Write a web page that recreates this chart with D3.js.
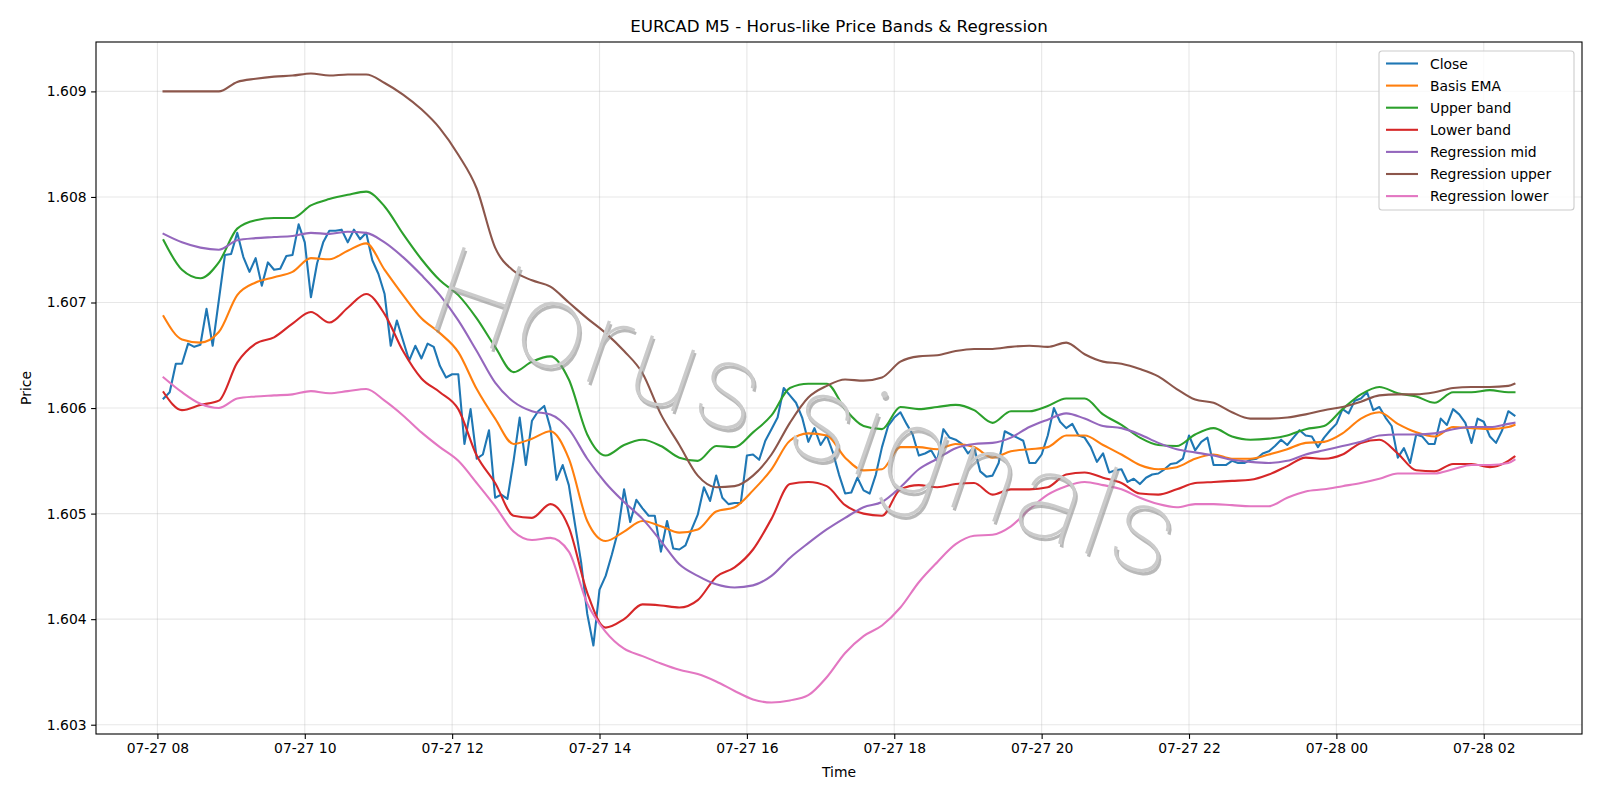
<!DOCTYPE html>
<html>
<head>
<meta charset="utf-8">
<script src="https://d3js.org/d3.v7.min.js"></script>
<style>
  body { margin: 0; background: #fff; }
  svg text { font-family: "DejaVu Sans", sans-serif; }
</style>
</head>
<body>
<svg width="1600" height="800"></svg>
<script>
// ---- data (5 minute bars, first bar 07-27 08:05) ----
var firstBar = new Date(2025, 6, 27, 8, 5);
var barMinutes = 5;

var closeVals = [
  1.60609, 1.60615, 1.60642, 1.60642, 1.60661, 1.60658, 1.60660, 1.60694, 1.60659, 1.60702,
  1.60745, 1.60746, 1.60766, 1.60743, 1.60729, 1.60742, 1.60716, 1.60738, 1.60731, 1.60732,
  1.60744, 1.60745, 1.60774, 1.60757, 1.60705, 1.60737, 1.60757, 1.60768, 1.60768, 1.60769,
  1.60757, 1.60769, 1.60760, 1.60766, 1.60740, 1.60727, 1.60708, 1.60659, 1.60683, 1.60664,
  1.60645, 1.60659, 1.60647, 1.60661, 1.60658, 1.60640, 1.60629, 1.60632, 1.60632, 1.60566,
  1.60599, 1.60552, 1.60556, 1.60579, 1.60515, 1.60518, 1.60514, 1.60550, 1.60591, 1.60546,
  1.60588, 1.60597, 1.60602, 1.60581, 1.60532, 1.60546, 1.60527, 1.60490, 1.60454, 1.60405,
  1.60375, 1.60428, 1.60441, 1.60461, 1.60483, 1.60523, 1.60492, 1.60513, 1.60505, 1.60498,
  1.60498, 1.60464, 1.60493, 1.60467, 1.60466, 1.60470, 1.60485, 1.60499, 1.60525, 1.60512,
  1.60536, 1.60515, 1.60509, 1.60510, 1.60510, 1.60555, 1.60556, 1.60551, 1.60569, 1.60580,
  1.60591, 1.60619, 1.60612, 1.60605, 1.60591, 1.60568, 1.60581, 1.60565, 1.60574, 1.60558,
  1.60537, 1.60519, 1.60520, 1.60534, 1.60522, 1.60519, 1.60537, 1.60563, 1.60583, 1.60591,
  1.60596, 1.60585, 1.60575, 1.60555, 1.60557, 1.60560, 1.60550, 1.60580, 1.60572, 1.60570,
  1.60566, 1.60557, 1.60563, 1.60540, 1.60535, 1.60536, 1.60548, 1.60578, 1.60575, 1.60572,
  1.60569, 1.60548, 1.60548, 1.60556, 1.60574, 1.60600, 1.60587, 1.60581, 1.60585, 1.60574,
  1.60572, 1.60563, 1.60549, 1.60557, 1.60539, 1.60541, 1.60542, 1.60530, 1.60533, 1.60528,
  1.60534, 1.60537, 1.60538, 1.60542, 1.60547, 1.60548, 1.60552, 1.60574, 1.60560, 1.60568,
  1.60572, 1.60546, 1.60546, 1.60546, 1.60550, 1.60548, 1.60548, 1.60551, 1.60552, 1.60557,
  1.60559, 1.60564, 1.60570, 1.60565, 1.60572, 1.60579, 1.60574, 1.60573, 1.60563, 1.60572,
  1.60579, 1.60585, 1.60599, 1.60595, 1.60607, 1.60609, 1.60615, 1.60598, 1.60601, 1.60591,
  1.60583, 1.60553, 1.60562, 1.60548, 1.60575, 1.60573, 1.60566, 1.60566, 1.60590, 1.60584,
  1.60599, 1.60594, 1.60586, 1.60567, 1.60590, 1.60587, 1.60573, 1.60567, 1.60579, 1.60597,
  1.60593
];

// bar numbers at which the smooth lines were read
var smoothBars = [
  0, 3, 6, 9, 12, 15, 18, 21, 24, 27, 30, 33, 36, 39, 42, 45, 48, 51, 54, 57,
  60, 63, 66, 69, 72, 75, 78, 81, 84, 87, 90, 93, 96, 99, 102, 105, 108, 111, 114, 117,
  120, 123, 126, 129, 132, 135, 138, 141, 144, 147, 150, 153, 156, 159, 162, 165, 168, 171, 174, 177,
  180, 183, 186, 189, 192, 195, 198, 201, 204, 207, 210, 213, 216, 219, 220
];

var emaVals = [
  1.60687, 1.60665, 1.60662, 1.60672, 1.60707, 1.60719, 1.60724, 1.60729, 1.60742, 1.60741,
  1.60749, 1.60756, 1.60731, 1.60707, 1.60685, 1.60671, 1.60653, 1.60618, 1.60590, 1.60566,
  1.60571, 1.60578, 1.60552, 1.60493, 1.60474, 1.60483, 1.60493, 1.60488, 1.60482, 1.60485,
  1.60502, 1.60506, 1.60522, 1.60542, 1.60569, 1.60576, 1.60574, 1.60553, 1.60541, 1.60542,
  1.60563, 1.60563, 1.60561, 1.60566, 1.60563, 1.60553, 1.60559, 1.60561, 1.60563, 1.60574,
  1.60574, 1.60565, 1.60556, 1.60546, 1.60542, 1.60544, 1.60552, 1.60556, 1.60552, 1.60552,
  1.60556, 1.60561, 1.60567, 1.60568, 1.60576, 1.60590, 1.60596, 1.60585, 1.60577, 1.60573,
  1.60582, 1.60581, 1.60580, 1.60582, 1.60584
];

var upperVals = [
  1.60759, 1.60731, 1.60723, 1.60738, 1.60770, 1.60778, 1.60780, 1.60780, 1.60792, 1.60798,
  1.60802, 1.60805, 1.60791, 1.60765, 1.60741, 1.60721, 1.60707, 1.60685, 1.60658, 1.60634,
  1.60644, 1.60649, 1.60627, 1.60575, 1.60555, 1.60565, 1.60570, 1.60564, 1.60553, 1.60550,
  1.60564, 1.60563, 1.60577, 1.60593, 1.60619, 1.60623, 1.60623, 1.60599, 1.60583, 1.60580,
  1.60601, 1.60599, 1.60601, 1.60603, 1.60598, 1.60586, 1.60597, 1.60597, 1.60602, 1.60609,
  1.60609, 1.60594, 1.60584, 1.60572, 1.60565, 1.60564, 1.60575, 1.60581, 1.60573, 1.60570,
  1.60571, 1.60574, 1.60580, 1.60583, 1.60599, 1.60613, 1.60620, 1.60614, 1.60611, 1.60605,
  1.60615, 1.60615, 1.60617, 1.60615, 1.60615
];

var lowerVals = [
  1.60615, 1.60598, 1.60603, 1.60607, 1.60643, 1.60661, 1.60667, 1.60680, 1.60691, 1.60681,
  1.60695, 1.60708, 1.60689, 1.60654, 1.60628, 1.60615, 1.60599, 1.60555, 1.60529, 1.60498,
  1.60496, 1.60509, 1.60487, 1.60425, 1.60392, 1.60400, 1.60414, 1.60413, 1.60411, 1.60418,
  1.60440, 1.60449, 1.60466, 1.60495, 1.60528, 1.60530, 1.60526, 1.60508, 1.60500, 1.60498,
  1.60523, 1.60527, 1.60525, 1.60528, 1.60529, 1.60518, 1.60523, 1.60523, 1.60525, 1.60537,
  1.60539, 1.60534, 1.60529, 1.60519, 1.60518, 1.60523, 1.60529, 1.60530, 1.60531, 1.60532,
  1.60537, 1.60545, 1.60553, 1.60552, 1.60556, 1.60567, 1.60570, 1.60557, 1.60541, 1.60540,
  1.60547, 1.60547, 1.60544, 1.60550, 1.60554
];

var regMidVals = [
  1.60765, 1.60757, 1.60752, 1.60750, 1.60759, 1.60761, 1.60762, 1.60763, 1.60766, 1.60765,
  1.60767, 1.60766, 1.60757, 1.60743, 1.60726, 1.60707, 1.60683, 1.60654, 1.60624, 1.60606,
  1.60597, 1.60594, 1.60580, 1.60552, 1.60529, 1.60511, 1.60495, 1.60474, 1.60452, 1.60441,
  1.60433, 1.60430, 1.60432, 1.60441, 1.60458, 1.60472, 1.60485, 1.60496, 1.60506, 1.60511,
  1.60525, 1.60542, 1.60552, 1.60562, 1.60566, 1.60567, 1.60572, 1.60582, 1.60589, 1.60595,
  1.60590, 1.60583, 1.60581, 1.60575, 1.60567, 1.60561, 1.60558, 1.60555, 1.60551, 1.60549,
  1.60548, 1.60550, 1.60556, 1.60560, 1.60564, 1.60568, 1.60574, 1.60575, 1.60575, 1.60576,
  1.60580, 1.60582, 1.60582, 1.60585, 1.60586
];

var regUpperVals = [
  1.60900, 1.60900, 1.60900, 1.60900, 1.60909, 1.60912, 1.60914, 1.60915, 1.60917, 1.60915,
  1.60916, 1.60916, 1.60908, 1.60897, 1.60883, 1.60865, 1.60840, 1.60808, 1.60752, 1.60730,
  1.60721, 1.60715, 1.60700, 1.60685, 1.60671, 1.60654, 1.60633, 1.60594, 1.60565, 1.60536,
  1.60525, 1.60526, 1.60536, 1.60556, 1.60586, 1.60610, 1.60621, 1.60627, 1.60626, 1.60629,
  1.60644, 1.60649, 1.60650, 1.60654, 1.60656, 1.60656, 1.60658, 1.60659, 1.60658, 1.60662,
  1.60651, 1.60644, 1.60642, 1.60637, 1.60630, 1.60618, 1.60608, 1.60605, 1.60596, 1.60590,
  1.60590, 1.60591, 1.60594, 1.60598, 1.60601, 1.60606, 1.60612, 1.60613, 1.60613, 1.60615,
  1.60619, 1.60620, 1.60620, 1.60621, 1.60623
];

var regLowerVals = [
  1.60629, 1.60615, 1.60604, 1.60600, 1.60609, 1.60611, 1.60612, 1.60613, 1.60616, 1.60614,
  1.60616, 1.60618, 1.60607, 1.60593, 1.60577, 1.60563, 1.60550, 1.60529, 1.60507, 1.60483,
  1.60475, 1.60477, 1.60464, 1.60415, 1.60388, 1.60372, 1.60365, 1.60358, 1.60352, 1.60348,
  1.60341, 1.60332, 1.60324, 1.60321, 1.60323, 1.60328, 1.60345, 1.60368, 1.60384, 1.60394,
  1.60411, 1.60435, 1.60454, 1.60471, 1.60479, 1.60480, 1.60488, 1.60504, 1.60518, 1.60526,
  1.60530, 1.60527, 1.60523, 1.60515, 1.60509, 1.60506, 1.60509, 1.60509, 1.60508, 1.60507,
  1.60507, 1.60515, 1.60521, 1.60523, 1.60526, 1.60529, 1.60533, 1.60538, 1.60538, 1.60538,
  1.60542, 1.60546, 1.60546, 1.60548, 1.60551
];

var seriesNames = ["Close", "Basis EMA", "Upper band", "Lower band",
                   "Regression mid", "Regression upper", "Regression lower"];
var seriesColors = ["#1f77b4", "#ff7f0e", "#2ca02c", "#d62728", "#9467bd", "#8c564b", "#e377c2"];

// ---- layout ----
var svg = d3.select("svg");
var margin = {top: 42, right: 18, bottom: 66, left: 96},
    width = 1600 - margin.left - margin.right,
    height = 800 - margin.top - margin.bottom;

function barTime(b) { return d3.timeMinute.offset(firstBar, b * barMinutes); }

var smoothSets = [emaVals, upperVals, lowerVals, regMidVals, regUpperVals, regLowerVals];
var series = [closeVals.map(function(v, i) { return {t: barTime(i), v: v}; })];
smoothSets.forEach(function(arr) {
  series.push(arr.map(function(v, k) { return {t: barTime(smoothBars[k]), v: v}; }));
});

// matplotlib style 5% margins
var tMin = barTime(0), tMax = barTime(closeVals.length - 1);
var tPad = (tMax - tMin) * 0.05;
var allVals = d3.merge([closeVals].concat(smoothSets));
var vMin = d3.min(allVals), vMax = d3.max(allVals), vPad = (vMax - vMin) * 0.05;

var x = d3.scaleTime()
    .domain([new Date(+tMin - tPad), new Date(+tMax + tPad)])
    .range([0, width]);
var y = d3.scaleLinear()
    .domain([vMin - vPad, vMax + vPad])
    .range([height, 0]);

var g = svg.append("g").attr("transform", "translate(" + margin.left + "," + margin.top + ")");

var xTicks = x.ticks(d3.timeHour.every(2));
var yTicks = d3.range(1.603, 1.6095, 0.001);

// grid
g.append("g").selectAll("line").data(xTicks).enter().append("line")
    .attr("x1", function(d) { return x(d); }).attr("x2", function(d) { return x(d); })
    .attr("y1", 0).attr("y2", height)
    .attr("stroke", "#b0b0b0").attr("stroke-opacity", 0.3).attr("stroke-width", 1.1);
g.append("g").selectAll("line").data(yTicks).enter().append("line")
    .attr("x1", 0).attr("x2", width)
    .attr("y1", function(d) { return y(d); }).attr("y2", function(d) { return y(d); })
    .attr("stroke", "#b0b0b0").attr("stroke-opacity", 0.3).attr("stroke-width", 1.1);

// watermark: thin lettering with a soft shadow
var wm = svg.append("g").attr("transform", "translate(792,452) rotate(19)");
function wmText(dx, dy, fill, op) {
  wm.append("text")
      .attr("x", dx).attr("y", dy)
      .attr("text-anchor", "middle")
      .attr("textLength", 780).attr("lengthAdjust", "spacing")
      .attr("font-size", 122).attr("font-weight", 100)
      .style("font-family", "Roboto, Inter, Lato, 'DejaVu Sans', sans-serif")
      .attr("fill", fill).attr("fill-opacity", op)
      .text("Horus signals");
}
wmText(2.5, 2.5, "#8a8a8a", 0.6);
wmText(0, 0, "#cbcbcb", 1);

// lines
var closeLine = d3.line()
    .x(function(d) { return x(d.t); })
    .y(function(d) { return y(d.v); });
var smoothLine = d3.line()
    .curve(d3.curveMonotoneX)
    .x(function(d) { return x(d.t); })
    .y(function(d) { return y(d.v); });

g.append("g").selectAll("path").data(series).enter().append("path")
    .attr("d", function(d, i) { return i === 0 ? closeLine(d) : smoothLine(d); })
    .attr("fill", "none")
    .attr("stroke", function(d, i) { return seriesColors[i]; })
    .attr("stroke-width", 2.1)
    .attr("stroke-linejoin", "round")
    .attr("stroke-linecap", "square");

// axes
var xAxis = g.append("g")
    .attr("transform", "translate(0," + height + ")")
    .call(d3.axisBottom(x).tickValues(xTicks).tickFormat(d3.timeFormat("%m-%d %H")).tickSizeOuter(0).tickSize(4.9).tickPadding(4));
var yAxis = g.append("g")
    .call(d3.axisLeft(y).tickValues(yTicks).tickFormat(d3.format(".3f")).tickSizeOuter(0).tickSize(4.9).tickPadding(4.5));
[xAxis, yAxis].forEach(function(a) {
  a.select(".domain").remove();
  a.selectAll("line").attr("stroke", "#000").attr("stroke-width", 1.1);
  a.selectAll("text").attr("font-size", 13.9).attr("fill", "#000")
    .style("font-family", "'DejaVu Sans', sans-serif");
});

// frame
g.append("rect")
    .attr("width", width).attr("height", height)
    .attr("fill", "none").attr("stroke", "#000").attr("stroke-width", 1.1);

// titles
svg.append("text")
    .attr("x", margin.left + width / 2).attr("y", 32)
    .attr("text-anchor", "middle").attr("font-size", 16.7)
    .text("EURCAD M5 - Horus-like Price Bands & Regression");
svg.append("text")
    .attr("x", margin.left + width / 2).attr("y", 777)
    .attr("text-anchor", "middle").attr("font-size", 13.9)
    .text("Time");
svg.append("text")
    .attr("transform", "translate(31," + (margin.top + height / 2) + ") rotate(-90)")
    .attr("text-anchor", "middle").attr("font-size", 13.9)
    .text("Price");

// legend
var legend = svg.append("g").attr("transform", "translate(1379,51)");
legend.append("rect")
    .attr("width", 195).attr("height", 159).attr("rx", 3)
    .attr("fill", "#fff").attr("fill-opacity", 0.8)
    .attr("stroke", "#cccccc").attr("stroke-width", 1.1);
var rows = legend.selectAll("g.row").data(seriesNames).enter().append("g")
    .attr("transform", function(d, i) { return "translate(0," + (12.5 + i * 22.1) + ")"; });
rows.append("line")
    .attr("x1", 7).attr("x2", 39)
    .attr("stroke", function(d, i) { return seriesColors[i]; })
    .attr("stroke-width", 2.1);
rows.append("text")
    .attr("x", 51).attr("dy", "0.36em")
    .attr("font-size", 13.9)
    .text(function(d) { return d; });
</script>
</body>
</html>
